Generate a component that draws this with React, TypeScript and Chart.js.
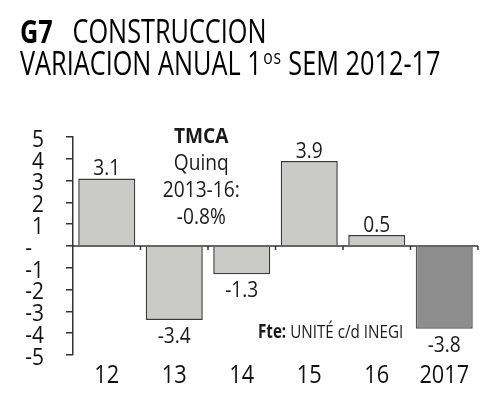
import React, { useEffect, useRef } from "react";
import { Chart, registerables } from "chart.js";

Chart.register(...registerables);

const categories = ["12", "13", "14", "15", "16", "2017"];
const values = [3.1, -3.4, -1.3, 3.9, 0.5, -3.8];
const valueLabels = ["3.1", "-3.4", "-1.3", "3.9", "0.5", "-3.8"];
const yMin = -5;
const yMax = 5;
const noteBold = "TMCA";
const noteLines = ["Quinq", "2013-16:", "-0.8%"];
const sourceBold = "Fte:";
const sourceText = " UNITÉ c/d INEGI";

const FAMILY = "'Open Sans'";
const LIGHT = "#cacac6";
const DARK = "#8d8d8d";

export default function App() {
  const ref = useRef<HTMLCanvasElement>(null);

  useEffect(() => {
    const canvas = ref.current!;
    const ctx = canvas.getContext("2d")! as any;
    const proto = CanvasRenderingContext2D.prototype as any;
    const origFill = proto.fillText;
    const origMeasure = proto.measureText;
    const state = { hs: 0.87 };
    ctx.fillText = function (t: string, x: number, y: number, mw?: number) {
      this.save();
      this.translate(x, y);
      this.scale(state.hs, 1);
      if (mw === undefined) origFill.call(this, t, 0, 0);
      else origFill.call(this, t, 0, 0, mw / state.hs);
      this.restore();
    };
    ctx.measureText = function (t: string) {
      const m = origMeasure.call(this, t);
      return {
        width: m.width * state.hs,
        actualBoundingBoxAscent: m.actualBoundingBoxAscent,
        actualBoundingBoxDescent: m.actualBoundingBoxDescent,
        actualBoundingBoxLeft: m.actualBoundingBoxLeft * state.hs,
        actualBoundingBoxRight: m.actualBoundingBoxRight * state.hs,
      };
    };

    const overlay = {
      id: "overlay",
      afterDatasetsDraw(chart: any) {
        const c = chart.ctx;
        const xs = chart.scales.x;
        const ys = chart.scales.y;
        const area = chart.chartArea;
        const y0 = ys.getPixelForValue(0);
        c.save();
        // zero line
        c.strokeStyle = "#333";
        c.lineWidth = 1.5;
        c.beginPath();
        c.moveTo(area.left, y0);
        c.lineTo(area.right, y0);
        c.stroke();
        // boundary ticks
        for (let i = 0; i < categories.length; i++) {
          const bx = xs.getPixelForValue(i + 0.5);
          c.beginPath();
          c.moveTo(bx, y0);
          c.lineTo(bx, y0 + 4);
          c.stroke();
        }
        // value labels
        const meta = chart.getDatasetMeta(0);
        c.fillStyle = "#1a1a1a";
        c.font = `400 22px ${FAMILY}`;
        c.textAlign = "center";
        c.textBaseline = "alphabetic";
        meta.data.forEach((bar: any, i: number) => {
          const v = values[i];
          if (v >= 0) c.fillText(valueLabels[i], bar.x, bar.y - 3);
          else c.fillText(valueLabels[i], bar.x, bar.y + 23);
        });
        // note
        const nx = xs.getPixelForValue(1.4);
        const ny = ys.getPixelForValue(4.72);
        c.font = `700 22px ${FAMILY}`;
        c.fillText(noteBold, nx, ny);
        c.font = `400 22px ${FAMILY}`;
        noteLines.forEach((t, i) => c.fillText(t, nx, ny + 27 * (i + 1)));
        // source
        state.hs = 0.8;
        c.textAlign = "left";
        const sx = xs.getPixelForValue(2.24);
        const sy = ys.getPixelForValue(-4.2);
        c.font = `700 19px ${FAMILY}`;
        c.fillText(sourceBold, sx, sy);
        const w = c.measureText(sourceBold).width;
        c.font = `400 19px ${FAMILY}`;
        c.fillText(sourceText, sx + w, sy);
        state.hs = 0.87;
        c.restore();
      },
    };

    const chart = new Chart(canvas, {
      type: "bar",
      data: {
        labels: categories,
        datasets: [
          {
            data: values,
            backgroundColor: values.map((_, i) =>
              i === values.length - 1 ? DARK : LIGHT
            ),
            borderColor: values.map((_, i) =>
              i === values.length - 1 ? "#555" : "#3a3a3a"
            ),
            borderWidth: 1.5,
            barPercentage: 0.845,
            categoryPercentage: 1,
          },
        ],
      },
      options: {
        animation: false,
        responsive: false,
        layout: { padding: { top: 137, right: 22, left: 0, bottom: 0 } },
        plugins: {
          legend: { display: false },
          tooltip: { enabled: false },
          title: { display: false },
        },
        scales: {
          x: {
            grid: { display: false },
            border: { display: false },
            ticks: {
              color: "#111",
              padding: -2,
              font: { family: FAMILY, size: 25 },
            },
            afterFit: (s: any) => {
              s.height = 44;
            },
          },
          y: {
            min: yMin,
            max: yMax,
            ticks: {
              stepSize: 1,
              autoSkip: false,
              color: "#111",
              padding: 22,
              labelOffset: 3,
              font: { family: FAMILY, size: 24 },
              callback: (v: any) => (Number(v) === 0 ? "-\u2007" : String(v)),
            },
            grid: {
              drawOnChartArea: false,
              drawTicks: true,
              tickLength: 7,
              color: "#333",
              lineWidth: 1.5,
            },
            border: { display: true, color: "#333", width: 1.5 },
            afterFit: (s: any) => {
              s.width = 73;
            },
          },
        },
      },
      plugins: [overlay],
    });
    return () => {
      chart.destroy();
    };
  }, []);

  const titleStyle: React.CSSProperties = {
    position: "absolute",
    left: 20,
    top: 14.6,
    fontFamily: FAMILY,
    fontSize: 32,
    lineHeight: "32px",
    color: "#000",
    whiteSpace: "nowrap",
    margin: 0,
    transform: "scaleX(0.79)",
    transformOrigin: "left top",
  };

  return (
    <div
      style={{
        position: "fixed",
        left: 0,
        top: 0,
        width: 500,
        height: 399,
        background: "#fff",
        overflow: "hidden",
      }}
    >
      <canvas
        ref={ref}
        width={500}
        height={399}
        style={{ position: "absolute", left: 0, top: 0, display: "block" }}
      />
      <div style={titleStyle}>
        <div>
          <span style={{ fontWeight: 700, marginRight: 25 }}>G7</span>
          <span>CONSTRUCCION</span>
        </div>
        <div>
          VARIACION ANUAL 1
          <span
            style={{
              fontSize: 20,
              position: "relative",
              top: -11,
              marginLeft: 2,
              letterSpacing: 1,
            }}
          >
            os
          </span>
          {" "}SEM 2012-17
        </div>
      </div>
    </div>
  );
}
